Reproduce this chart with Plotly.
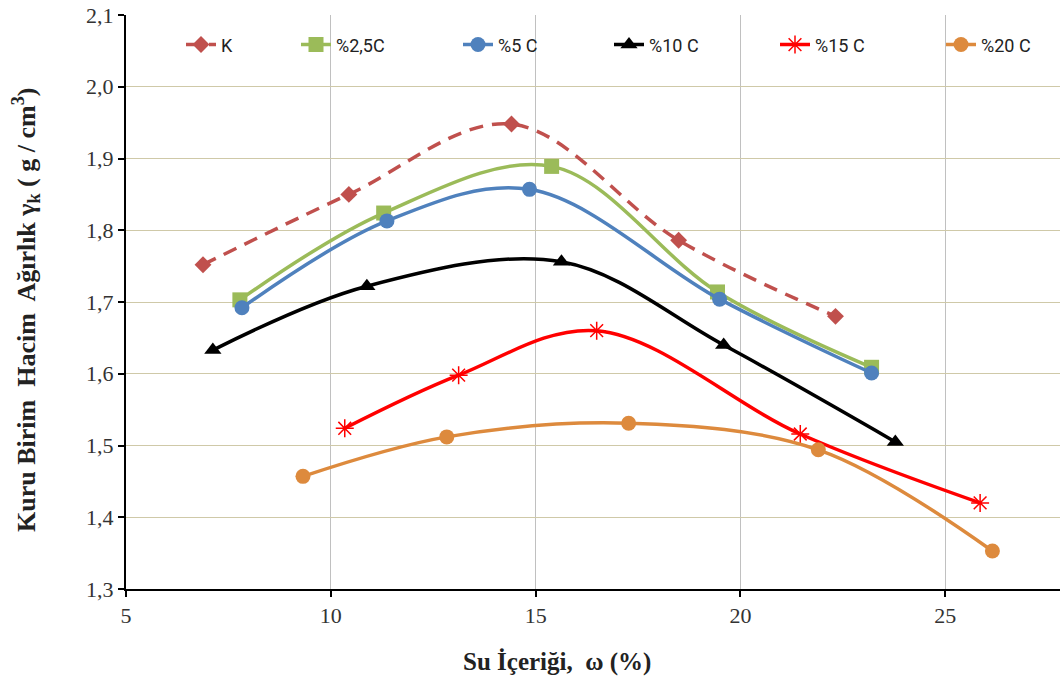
import plotly.graph_objects as go

# Data
k_x = [6.88, 10.44, 14.41, 18.49, 22.32]
k_y = [1.752, 1.850, 1.948, 1.786, 1.680]

c25_x = [7.78, 11.29, 15.39, 19.44, 23.20]
c25_y = [1.703, 1.824, 1.889, 1.714, 1.609]

c5_x = [7.83, 11.37, 14.85, 19.49, 23.20]
c5_y = [1.692, 1.813, 1.857, 1.704, 1.601]

c10_x = [7.12, 10.88, 15.63, 19.59, 23.78]
c10_y = [1.633, 1.722, 1.756, 1.640, 1.505]

c15_x = [10.34, 13.12, 16.49, 21.46, 25.85]
c15_y = [1.524, 1.598, 1.660, 1.516, 1.420]

c20_x = [9.32, 12.83, 17.27, 21.90, 26.15]
c20_y = [1.457, 1.512, 1.531, 1.494, 1.353]

names = ["K", "%2,5C", "%5 C", "%10 C", "%15 C", "%20 C"]
x_title = "<b>Su İçeriği,\u00a0 ω (%)</b>"
y_title = "<b>Kuru Birim\u00a0 Hacim\u00a0 Ağırlık γ<sub>k</sub> ( g / cm<sup>3</sup>)</b>"

series = [
    (names[0], k_x, k_y, "#C0504D", "diamond", "14px,9px", 13),
    (names[1], c25_x, c25_y, "#9BBB59", "square", "solid", 15),
    (names[2], c5_x, c5_y, "#4F81BD", "circle", "solid", 15),
    (names[3], c10_x, c10_y, "#000000", "triangle-up", "solid", 15),
    (names[4], c15_x, c15_y, "#FF0000", "asterisk-open", "solid", 15),
    (names[5], c20_x, c20_y, "#DD8A3D", "circle", "solid", 15),
]

# legend text left positions (px) in the reference
legend_text_px = [225, 340, 502, 653, 819, 985]
PLOT_L, PLOT_W, PLOT_T, PLOT_B = 126, 934, 15, 589
PLOT_H = PLOT_B - PLOT_T

fig = go.Figure()
legend_layout = {}
for i, (name, xs, ys, color, sym, dash, msize) in enumerate(series):
    marker = dict(symbol=sym, size=msize, color=color)
    if sym == "asterisk-open":
        marker["line"] = dict(color=color, width=1.5)
    lg = "legend" if i == 0 else f"legend{i + 1}"
    fig.add_trace(go.Scatter(
        x=xs, y=ys, name=name, mode="lines+markers", legend=lg,
        line=dict(color=color, width=3.5, dash=dash, shape="spline", smoothing=1),
        marker=marker,
    ))
    legend_layout[lg] = dict(
        x=(legend_text_px[i] - 44 - PLOT_L) / PLOT_W, y=0.948,
        xanchor="left", yanchor="middle",
        font=dict(family="Roboto, sans-serif", size=18, color="#222"),
        bgcolor="rgba(0,0,0,0)", borderwidth=0,
    )

fig.update_layout(
    width=1060, height=695,
    margin=dict(l=PLOT_L, r=0, t=PLOT_T, b=695 - PLOT_B),
    paper_bgcolor="white", plot_bgcolor="white",
    separators=",.",
    font=dict(family="Liberation Serif, serif", size=16, color="#222"),
    showlegend=True,
    xaxis=dict(
        range=[5, 27.8], tickvals=[5, 10, 15, 20, 25],
        showgrid=True, gridcolor="#C0C0C0", gridwidth=1,
        showline=True, linecolor="black", linewidth=2,
        ticks="outside", ticklen=6, tickcolor="black", tickwidth=1.5,
        zeroline=False,
        tickfont=dict(family="Liberation Serif, serif", size=22, color="#333"),
    ),
    yaxis=dict(
        range=[1.3, 2.1], dtick=0.1, tickformat=".1f",
        showgrid=True, gridcolor="#CFC9A8", gridwidth=1,
        showline=True, linecolor="black", linewidth=2,
        ticks="outside", ticklen=6, tickcolor="black", tickwidth=1.5,
        zeroline=False,
        tickfont=dict(family="Liberation Serif, serif", size=22, color="#333"),
    ),
    annotations=[
        dict(text=x_title, xref="paper", yref="paper",
             x=(557 - PLOT_L) / PLOT_W, y=(PLOT_B - 662) / PLOT_H,
             xanchor="center", yanchor="middle", showarrow=False,
             font=dict(family="Liberation Serif, serif", size=25, color="#222")),
        dict(text=y_title, xref="paper", yref="paper", textangle=-90,
             x=(26 - PLOT_L) / PLOT_W, y=(PLOT_B - 310) / PLOT_H,
             xanchor="center", yanchor="middle", showarrow=False,
             font=dict(family="Liberation Serif, serif", size=26, color="#222")),
    ],
    **legend_layout,
)

fig.write_html("out.html")
